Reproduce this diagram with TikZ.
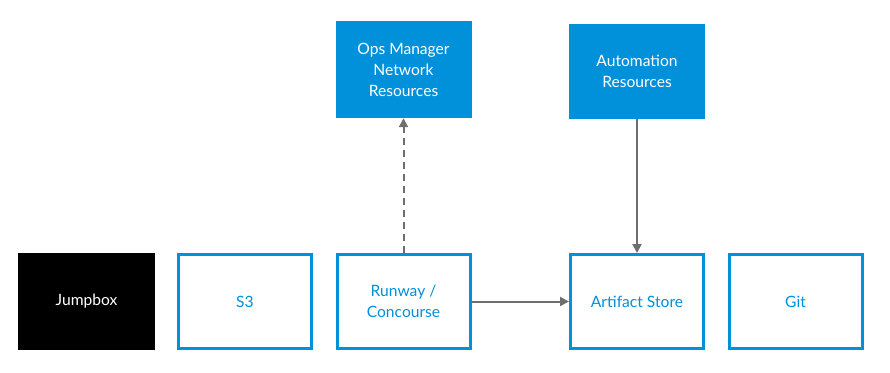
\documentclass[tikz,border=0pt]{standalone}
\usepackage{fontspec}
\setmainfont{Lato}
\usetikzlibrary{arrows.meta}
\definecolor{pivblue}{HTML}{0190DA}
\definecolor{linkgray}{HTML}{6E6E6E}
\begin{document}
\begin{tikzpicture}[x=1pt,y=-1pt,
  label font/.style={font=\fontsize{15.6}{21}\selectfont},
  box/.style={draw=pivblue, line width=3pt, fill=white, text=pivblue,
    minimum width=133pt, minimum height=94pt, inner sep=0pt, align=center, label font},
  solidbox/.style={fill=pivblue, text=white, minimum width=136pt, minimum height=97pt,
    inner sep=0pt, align=center, label font},
  darkbox/.style={fill=black, text=white, minimum width=137pt, minimum height=97pt,
    inner sep=0pt, align=center, label font},
  link/.style={draw=linkgray, line width=2pt, -{Triangle[length=9pt,width=9pt]}}]
\useasboundingbox (0,0) rectangle (890,372);
% top row: cloud resources
\node[solidbox] (ops) at (403.5,69.5) {Ops Manager\\Network\\Resources};
\node[solidbox, minimum height=95pt] (auto) at (637,71.5) {Automation\\Resources};
% bottom row: tooling
\node[darkbox] (jump) at (86.5,301.5) {Jumpbox};
\node[box] (s3) at (245,301.5) {S3};
\node[box] (runway) at (403.5,301.5) {Runway /\\Concourse};
\node[box] (store) at (637,301.5) {Artifact Store};
\node[box] (git) at (795.5,301.5) {Git};
% connectors
\draw[link, dashed, dash pattern=on 7pt off 5pt] (runway.north) -- (ops.south);
\draw[link] (auto.south) -- (store.north);
\draw[link] (runway.east) -- (store.west);
\end{tikzpicture}
\end{document}
